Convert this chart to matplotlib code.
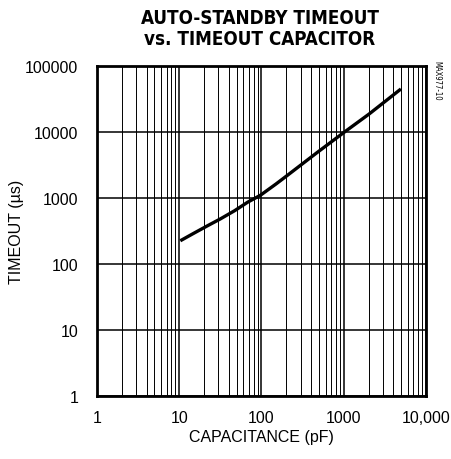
import numpy as np
import matplotlib.pyplot as plt
from matplotlib.ticker import FixedLocator, NullFormatter

# curve
cap_pf = [10.3, 15, 22, 31.6, 47, 68, 97, 150, 206, 478, 1009, 2036, 4955]
timeout_us = [225, 292, 379, 482, 641, 865, 1100, 1630, 2200, 4920, 9890, 18750, 44850]

xticks = [1, 10, 100, 1000, 10000]
xlabels = ['1', '10', '100', '1000', '10,000']
yticks = [1, 10, 100, 1000, 10000, 100000]
ylabels = ['1', '10', '100', '1000', '10000', '100000']

plt.rcParams['font.family'] = ['Liberation Sans', 'DejaVu Sans']

fig = plt.figure(figsize=(4.52, 4.60), dpi=100)
ax = fig.add_axes([97/452, 1-397/460, 329/452, 330/460])

ax.set_xscale('log')
ax.set_yscale('log')
ax.set_xlim(1, 10000)
ax.set_ylim(1, 100000)

# grid: minor verticals, major both ways
minor_x = [m * 10**d for d in range(4) for m in range(2, 10)]
ax.xaxis.set_minor_locator(FixedLocator(minor_x))
ax.xaxis.set_minor_formatter(NullFormatter())
ax.yaxis.set_minor_locator(FixedLocator([]))
ax.set_xticks(xticks, xlabels)
ax.set_yticks(yticks, ylabels)
ax.grid(which='major', color='black', linewidth=1.1)
ax.grid(which='minor', axis='x', color='black', linewidth=0.7)
ax.tick_params(which='both', length=0, labelsize=11.5)
ax.tick_params(axis='x', pad=10)
ax.tick_params(axis='y', pad=13.5)

ax.plot(cap_pf, timeout_us, color='black', linewidth=2.4, solid_capstyle='butt')

for s in ax.spines.values():
    s.set_linewidth(2)

ax.set_xlabel('CAPACITANCE (pF)', fontsize=11.5, labelpad=3)
ax.set_ylabel('TIMEOUT (\u00b5s)', fontsize=11.5, labelpad=1)

fig.text(260/452, 1-29/460, 'AUTO-STANDBY TIMEOUT\nvs. TIMEOUT CAPACITOR',
         ha='center', va='center', fontsize=13.5, fontweight='heavy',
         family=['DejaVu Sans'], stretch='condensed', linespacing=1.1)
fig.text(437/452, 1-81/460, 'MAX977-10', rotation=-90, ha='center', va='center',
         fontsize=5.5, family=['DejaVu Sans'], stretch='condensed')

fig.savefig('out.png', dpi=100)
